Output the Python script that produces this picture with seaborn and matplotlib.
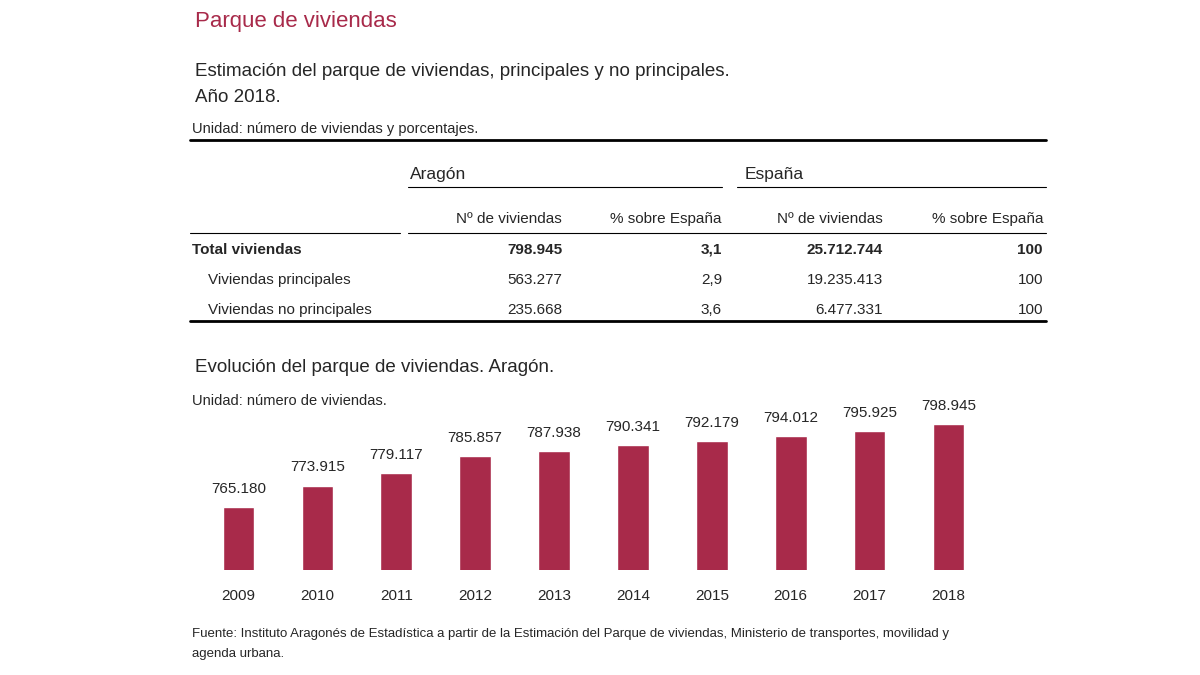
import matplotlib
matplotlib.use("Agg")
import matplotlib.pyplot as plt
import seaborn as sns
import pandas as pd
from matplotlib.lines import Line2D

# Datos
years = ["2009", "2010", "2011", "2012", "2013", "2014", "2015", "2016", "2017", "2018"]
viviendas = [765180, 773915, 779117, 785857, 787938, 790341, 792179, 794012, 795925, 798945]

row_names = ["Total viviendas", "Viviendas principales", "Viviendas no principales"]
aragon_n = ["798.945", "563.277", "235.668"]
aragon_pct = ["3,1", "2,9", "3,6"]
espana_n = ["25.712.744", "19.235.413", "6.477.331"]
espana_pct = ["100", "100", "100"]

RED = "#A82A4A"
W, H = 1200, 675

sns.set_theme(style="white")
plt.rcParams["font.family"] = ["Liberation Sans", "DejaVu Sans"]

fig = plt.figure(figsize=(12, 6.75), dpi=100)


def px(x, y):
    return x / W, 1 - y / H


def txt(x, y, s, **kw):
    fx, fy = px(x, y)
    fig.text(fx, fy, s, va="center", **kw)


def hline(x0, x1, y, lw=1):
    a, b = px(x0, y)
    c, _ = px(x1, y)
    fig.add_artist(Line2D([a, c], [b, b], color="black", lw=lw))


txt(195, 22, "Parque de viviendas", fontsize=16, color=RED)
txt(195, 72, "Estimación del parque de viviendas, principales y no principales.", fontsize=13.5)
txt(195, 98, "Año 2018.", fontsize=13.5)
txt(192, 129, "Unidad: número de viviendas y porcentajes.", fontsize=10.5)

# Tabla
hline(190, 1046, 140, lw=2)
txt(410, 175, "Aragón", fontsize=12.5)
txt(745, 175, "España", fontsize=12.5)
hline(408, 722, 187, lw=0.8)
hline(737, 1046, 187, lw=0.8)
txt(562, 219, "Nº de viviendas", fontsize=11, ha="right")
txt(722, 219, "% sobre España", fontsize=11, ha="right")
txt(883, 219, "Nº de viviendas", fontsize=11, ha="right")
txt(1043, 219, "% sobre España", fontsize=11, ha="right")
hline(190, 400, 233, lw=0.8)
hline(408, 1046, 233, lw=0.8)

row_y = [250, 280, 310]
for i, name in enumerate(row_names):
    bold = "bold" if i == 0 else "normal"
    x0 = 192 if i == 0 else 208
    txt(x0, row_y[i], name, fontsize=11, fontweight=bold)
    txt(562, row_y[i], aragon_n[i], fontsize=11, fontweight=bold, ha="right")
    txt(722, row_y[i], aragon_pct[i], fontsize=11, fontweight=bold, ha="right")
    txt(883, row_y[i], espana_n[i], fontsize=11, fontweight=bold, ha="right")
    txt(1043, row_y[i], espana_pct[i], fontsize=11, fontweight=bold, ha="right")
hline(190, 1046, 321, lw=2)

txt(195, 367, "Evolución del parque de viviendas. Aragón.", fontsize=13.5)
txt(192, 401, "Unidad: número de viviendas.", fontsize=10.5)

# Grafico de barras
l, b = px(199, 570)
r, t = px(988, 400)
ax = fig.add_axes([l, b, r - l, t - b])
df = pd.DataFrame({"year": years, "viviendas": viviendas})
sns.barplot(data=df, x="year", y="viviendas", color=RED, saturation=1, width=0.4, ax=ax)
ax.set_xlim(-0.5, 9.5)
ax.set_ylim(739550, 739550 + 170 * 406.8)
for i, v in enumerate(viviendas):
    ax.annotate(f"{v:,}".replace(",", "."), (i, v), xytext=(0, 8), textcoords="offset points",
                ha="center", va="bottom", fontsize=11, annotation_clip=False)
ax.set_xlabel("")
ax.set_ylabel("")
ax.set_yticks([])
ax.tick_params(axis="x", length=0, labelsize=11, pad=14)
sns.despine(ax=ax, left=True, bottom=True)

txt(192, 634, "Fuente: Instituto Aragonés de Estadística a partir de la Estimación del Parque de viviendas, "
    "Ministerio de transportes, movilidad y", fontsize=9.5)
txt(192, 654, "agenda urbana.", fontsize=9.5)

fig.savefig("out.png", dpi=100)
